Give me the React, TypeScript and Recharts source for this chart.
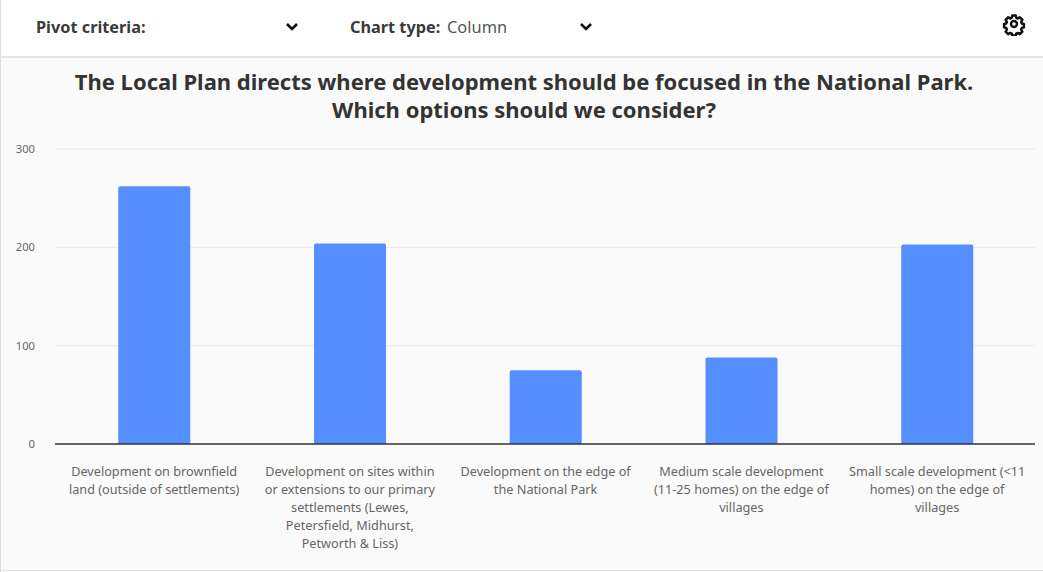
import { Bar, BarChart, CartesianGrid, XAxis, YAxis } from "recharts";

const categories = [
  "Development on brownfield land (outside of settlements)",
  "Development on sites within or extensions to our primary settlements (Lewes, Petersfield, Midhurst, Petworth & Liss)",
  "Development on the edge of the National Park",
  "Medium scale development (11-25 homes) on the edge of villages",
  "Small scale development (<11 homes) on the edge of villages",
];
const categoryLines = [
  ["Development on brownfield", "land (outside of settlements)"],
  ["Development on sites within", "or extensions to our primary", "settlements (Lewes,", "Petersfield, Midhurst,", "Petworth & Liss)"],
  ["Development on the edge of", "the National Park"],
  ["Medium scale development", "(11-25 homes) on the edge of", "villages"],
  ["Small scale development (<11", "homes) on the edge of", "villages"],
];
const responses = [262, 204, 75, 88, 203];
const yTicks = [0, 100, 200, 300];

const FONT = '"Noto Sans", sans-serif';
const data = categories.map((name, i) => ({ name, responses: responses[i] }));

const CategoryTick = ({ x, y, index }: any) => (
  <text x={x} textAnchor="middle" fontFamily={FONT} fontSize={12.7} fill="#666">
    {categoryLines[index].map((line, i) => (
      <tspan key={line} x={x} y={y + 24 + i * 18}>
        {line}
      </tspan>
    ))}
  </text>
);

const ValueTick = ({ x, y, payload }: any) => (
  <text x={x + 6} y={y + 4} textAnchor="end" fontFamily={FONT} fontSize={11.2} fill="#666">
    {payload.value}
  </text>
);

const Chevron = ({ left }: { left: number }) => (
  <svg width={14} height={10} viewBox="0 0 14 10" style={{ position: "absolute", left, top: 22 }}>
    <path d="M2 2 L7 7 L12 2" fill="none" stroke="#111" strokeWidth={2.6} />
  </svg>
);

const Gear = () => (
  <svg width={24} height={24} viewBox="0 0 24 24" style={{ position: "absolute", left: 1002, top: 12 }}>
    <path
      d="M10 2h4l.6 2.7 1.9.8 2.4-1.4 2.9 2.9-1.4 2.4.8 1.9 2.4.7v4l-2.4.7-.8 1.9 1.4 2.4-2.9 2.9-2.4-1.4-1.9.8-.6 2.4h-4l-.6-2.4-1.9-.8-2.4 1.4-2.9-2.9 1.4-2.4-.8-1.9-2.4-.7v-4l2.4-.7.8-1.9-1.4-2.4 2.9-2.9 2.4 1.4 1.9-.8z"
      transform="translate(1.8 1.8) scale(.85)"
      fill="none"
      stroke="#111"
      strokeWidth={3}
      strokeLinejoin="round"
    />
    <circle cx={12} cy={12} r={3} fill="none" stroke="#111" strokeWidth={2.4} />
  </svg>
);

const labelStyle = {
  position: "absolute",
  top: 16,
  fontSize: 16.3,
  fontWeight: 700,
  color: "#3a3a3a",
  whiteSpace: "nowrap",
} as const;

export default function App() {
  return (
    <div
      style={{
        position: "absolute",
        left: 0,
        top: 0,
        width: 1043,
        height: 572,
        overflow: "hidden",
        background: "#fff",
        fontFamily: FONT,
      }}
    >
      {/* toolbar */}
      <div style={{ ...labelStyle, left: 36 }}>Pivot criteria:</div>
      <Chevron left={285} />
      <div style={{ ...labelStyle, left: 350 }}>Chart type:</div>
      <div style={{ ...labelStyle, left: 447, top: 15, fontWeight: 400, color: "#555", fontSize: 16.4 }}>Column</div>
      <Chevron left={579} />
      <Gear />

      {/* chart panel */}
      <div
        style={{
          position: "absolute",
          left: 0,
          top: 56,
          width: 1043,
          height: 515,
          boxSizing: "border-box",
          background: "#fafafa",
          borderTop: "2px solid #e4e4e4",
          borderBottom: "1px solid #e4e4e4",
        }}
      />
      <div style={{ position: "absolute", left: 0, top: 0, width: 1, height: 572, background: "#dcdcdc" }} />
      <div
        style={{
          position: "absolute",
          left: 0,
          top: 67,
          width: 1048,
          textAlign: "center",
          fontSize: 22,
          lineHeight: "28px",
          fontWeight: 700,
          color: "#333",
          whiteSpace: "nowrap",
        }}
      >
        The Local Plan directs where development should be focused in the National Park.
        <br />
        Which options should we consider?
      </div>

      <div style={{ position: "absolute", left: 0, top: 0 }}>
        <BarChart
          width={1043}
          height={572}
          data={data}
          barSize={72}
          margin={{ top: 149, right: 8, bottom: 0, left: 0 }}
        >
          <CartesianGrid vertical={false} stroke="#e9e9e9" />
          <XAxis
            dataKey="name"
            interval={0}
            height={128}
            padding={{ left: 1.25, right: 0 }}
            tickLine={false}
            axisLine={{ stroke: "#333", strokeWidth: 1.5 }}
            tick={<CategoryTick />}
          />
          <YAxis
            width={55}
            domain={[0, 300]}
            ticks={yTicks}
            tickLine={false}
            axisLine={false}
            tickMargin={20}
            tick={<ValueTick />}
          />
          <Bar dataKey="responses" fill="#558fff" radius={[2, 2, 0, 0]} isAnimationActive={false} />
        </BarChart>
      </div>
    </div>
  );
}
